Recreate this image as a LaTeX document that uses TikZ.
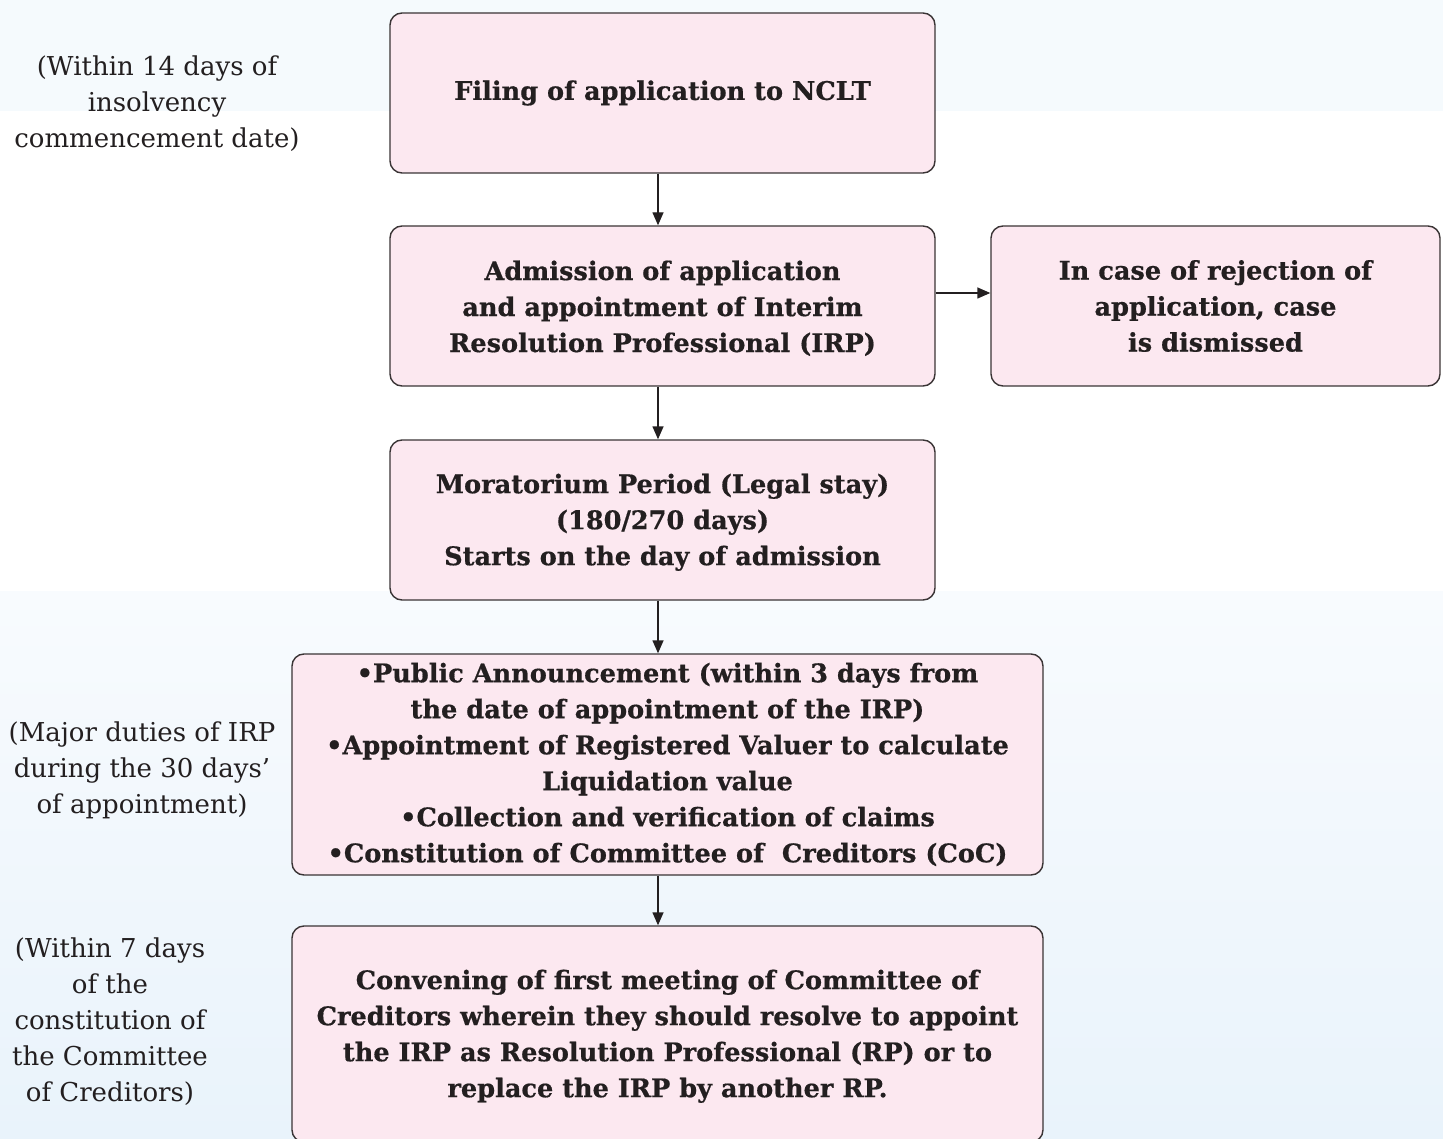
\documentclass[tikz,border=0pt]{standalone}
\usepackage{fontspec}
\setmainfont{DejaVu Serif}[BoldFeatures={FakeBold=0.6}]
\usetikzlibrary{arrows.meta}
\definecolor{boxfill}{HTML}{FCE8F0}
\definecolor{boxline}{HTML}{3A3435}
\definecolor{ink}{HTML}{231F20}
\definecolor{bandtop}{HTML}{F5FAFD}
\definecolor{bandlow}{HTML}{F8FBFE}
\definecolor{bandbottom}{HTML}{E9F3FB}
% invisible strut that lifts the first line of a box
\newcommand{\firstline}{\rule{0pt}{24pt}}
\tikzset{
  stepbox/.style={draw=boxline, line width=1.4pt, fill=boxfill, rounded corners=12pt,
    align=center, text=ink, font=\bfseries\fontsize{25.6}{36}\selectfont, inner sep=0pt},
  note/.style={align=center, text=ink, font=\fontsize{26}{36}\selectfont, inner sep=0pt},
  flow/.style={draw=ink, line width=1.4pt, -{Triangle[length=13pt,width=11pt]}}
}
\begin{document}
\begin{tikzpicture}[x=1pt,y=-1pt]
\useasboundingbox (0,0) rectangle (1443,1139);
\clip (0,0) rectangle (1443,1139);
% background bands
\fill[bandtop] (0,0) rectangle (1443,111);
\shade[top color=bandlow, bottom color=bandbottom] (0,591) rectangle (1443,1139);

% main steps
\node[stepbox, minimum width=545pt, minimum height=160pt] (filing) at (662.5,93)
  {Filing of application to NCLT};
\node[stepbox, minimum width=545pt, minimum height=160pt] (admit) at (662.5,306)
  {\firstline Admission of application\\and appointment of Interim\\Resolution Professional (IRP)};
\node[stepbox, minimum width=449pt, minimum height=160pt] (reject) at (1215.5,306)
  {In case of rejection of\\application, case\\is dismissed};
\node[stepbox, minimum width=545pt, minimum height=160pt] (morat) at (662.5,520)
  {\firstline Moratorium Period (Legal stay)\\(180/270 days)\\Starts on the day of admission};
\node[stepbox, minimum width=751pt, minimum height=221pt] (duties) at (667.5,764.5)
  {\textbullet Public Announcement (within 3 days from\\the date of appointment of the IRP)\\
   \textbullet Appointment of Registered Valuer to calculate\\Liquidation value\\
   \textbullet Collection and verification of claims\\
   \textbullet Constitution of Committee of\ \ Creditors (CoC)};
\node[stepbox, minimum width=751pt, minimum height=216pt] (meeting) at (667.5,1034)
  {\firstline Convening of first meeting of Committee of\\Creditors wherein they should resolve to appoint\\
   the IRP as Resolution Professional (RP) or to\\replace the IRP by another RP.};

% side notes
\node[note] (n1) at (157,104) {(Within 14 days of\\insolvency\\commencement date)};
\node[note] (n2) at (142,770) {(Major duties of IRP\\during the 30 days'\\of appointment)};
\node[note] (n3) at (110,1022) {(Within 7 days\\of the\\constitution of\\the Committee\\of Creditors)};

% connectors
\draw[flow] (filing.south -| 658,0) -- (admit.north -| 658,0);
\draw[flow] (admit.east |- 0,293) -- (reject.west |- 0,293);
\draw[flow] (admit.south -| 658,0) -- (morat.north -| 658,0);
\draw[flow] (morat.south -| 658,0) -- (duties.north -| 658,0);
\draw[flow] (duties.south -| 658,0) -- (meeting.north -| 658,0);
\end{tikzpicture}
\end{document}
